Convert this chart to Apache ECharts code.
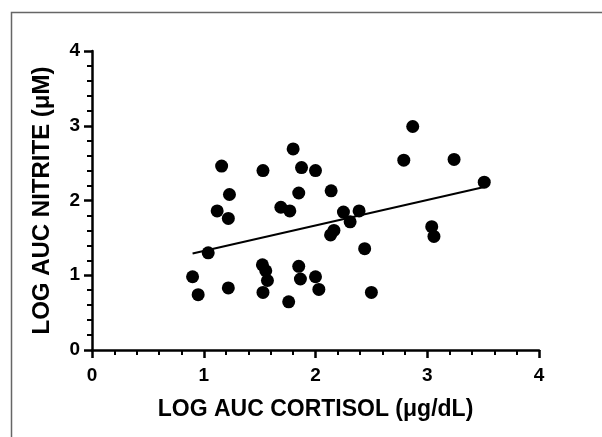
<!DOCTYPE html>
<html>
<head>
<meta charset="utf-8">
<script src="https://cdn.jsdelivr.net/npm/echarts@6/dist/echarts.min.js"></script>
<style>html,body{margin:0;padding:0;background:#fff}#c{width:602px;height:437px}</style>
</head>
<body>
<div id="c"></div>
<script>
var cortisol = [0.90,0.95,1.04,1.12,1.16,1.22,1.23,1.22,1.53,1.525,1.555,1.57,1.53,1.69,1.77,1.76,1.80,1.85,1.875,1.85,1.865,2.00,2.00,2.03,2.14,2.165,2.135,2.25,2.31,2.39,2.44,2.50,2.79,2.87,3.04,3.06,3.24,3.51];
var nitrite  = [0.98,0.74,1.30,1.86,2.46,1.76,2.08,0.83,2.40,1.14,1.06,0.93,0.77,1.91,1.86,0.645,2.69,2.10,2.44,1.12,0.95,2.40,0.98,0.81,2.13,1.60,1.54,1.845,1.715,1.86,1.355,0.77,2.54,2.99,1.65,1.52,2.55,2.245];
var fitX = [0.90, 3.51];
var fitY = [1.29, 2.18];
var xTicks = [0,1,2,3,4];
var yTicks = [0,1,2,3,4];
var xTitle = 'LOG AUC CORTISOL (\u03bcg/dL)';
var yTitle = 'LOG AUC NITRITE (\u03bcM)';

var pts = cortisol.map(function(x,i){return [x, nitrite[i]];});
var fit = fitX.map(function(x,i){return [x, fitY[i]];});
var font = 'Liberation Sans';
function axis(ticks, name, isY){
  return {
    type:'value', min:ticks[0], max:ticks[ticks.length-1], interval:1,
    name:name, nameLocation:'middle', nameGap: isY ? 38 : 48,
    nameTextStyle:{fontFamily:font, fontWeight:'bold', fontSize: isY ? 24 : 23, color:'#000'},
    axisLine:{show:true, onZero:false, lineStyle:{color:'#000', width:2.5, opacity:1}},
    axisTick:{show:true, inside:false, length:8, lineStyle:{color:'#000', width:2.5, opacity:1}},
    minorTick:{show:true, splitNumber:5, length:5, lineStyle:{color:'#000', width:2, opacity:1}},
    splitLine:{show:false},
    axisLabel:{show:true, margin: isY ? 12 : 16,
      formatter:function(v){return '{t|' + v + '}';},
      rich:{t:{fontFamily:font, fontWeight:'bold', fontSize:19, color:'#000'}}}
  };
}
var chart = echarts.init(document.getElementById('c'), null, {renderer:'canvas'});
chart.setOption({
  animation:false,
  backgroundColor:'#fff',
  graphic:[{type:'rect', left:9, top:10, shape:{width:700, height:600}, style:{fill:'none', stroke:'#666', lineWidth:1.5}, z:-10}],
  grid:{left:92, right:63, top:51, bottom:87, containLabel:false},
  xAxis: axis(xTicks, xTitle, false),
  yAxis: axis(yTicks, yTitle, true),
  series:[
    {type:'scatter', data:pts, symbol:'circle', symbolSize:13, itemStyle:{color:'#000', opacity:1}, z:3},
    {type:'line', data:fit, showSymbol:false, symbol:'none', lineStyle:{color:'#000', width:2}, z:2}
  ]
});
</script>
</body>
</html>
